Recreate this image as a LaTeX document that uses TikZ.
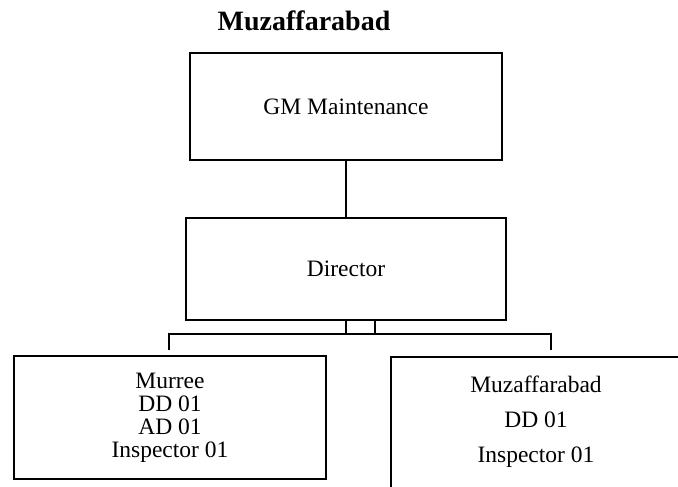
\documentclass[tikz,border=0pt]{standalone}
\usepackage{fontspec}
\setmainfont{Liberation Serif}
\begin{document}
\begin{tikzpicture}[x=1pt,y=-1pt,
  box/.style={draw,line width=2.4pt,rectangle,inner sep=0pt,align=center,
    font=\fontsize{23.5}{23}\selectfont},
  wire/.style={line width=2.4pt},
  lbl/.style={inner sep=0pt,align=center,font=\fontsize{23.5}{35}\selectfont}]
\useasboundingbox (0,0) rectangle (678,487);
\clip (0,0) rectangle (678,487);

% heading
\node[inner sep=0pt,font=\fontsize{28}{30}\selectfont\bfseries] (title) at (304,21) {Muzaffarabad};

% boxes
\node[box,minimum width=312pt,minimum height=107pt] (gm) at (346,106.5) {GM Maintenance};
\node[box,minimum width=320pt,minimum height=102pt] (dir) at (346,269) {Director};
\node[box,minimum width=312pt,minimum height=123pt] (murree) at (170,417.5)
  {Murree\\DD 01\\AD 01\\Inspector 01};
\node[box,minimum width=290pt,minimum height=140pt] (muz) at (536,427) {};
\node[lbl] (muztext) at (536,422) {Muzaffarabad\\DD 01\\Inspector 01};

% junction points under the director
\coordinate (j1) at (346,334);
\coordinate (j2) at (375,334);
\coordinate (d2) at (375,320);
\coordinate (busl) at (169,334);
\coordinate (busr) at (551,334);
\coordinate (tickl) at (169,350);
\coordinate (tickr) at (551,350);

% connectors
\draw[wire] (gm.south) -- (dir.north);
\draw[wire] (dir.south) -- (j1);
\draw[wire] (d2) -- (j2);
\draw[wire,line join=miter] (tickl) -- (busl) -- (busr) -- (tickr);
\end{tikzpicture}
\end{document}
